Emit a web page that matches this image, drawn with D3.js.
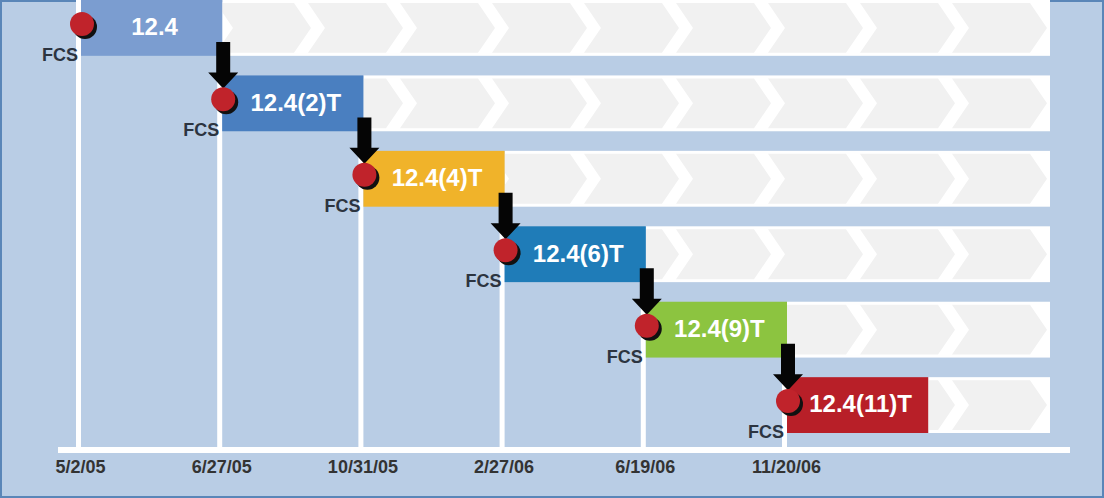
<!DOCTYPE html>
<html>
<head>
<meta charset="utf-8">
<script src="https://cdn.jsdelivr.net/npm/d3@7"></script>
<style>
  body { margin: 0; background: #ffffff; }
  svg { display: block; font-family: "Liberation Sans", Arial, sans-serif; }
</style>
</head>
<body>
<svg id="canvas"></svg>
<script>
// release trains and their FCS dates
let releases = ['12.4', '12.4(2)T', '12.4(4)T', '12.4(6)T', '12.4(9)T', '12.4(11)T']
let fcsDates = ['5/2/05', '6/27/05', '10/31/05', '2/27/06', '6/19/06', '11/20/06']
let barColors = ['#7b9dd0', '#4a7fc0', '#f0b32a', '#1f7cb8', '#8cc440', '#b81f28']

let width = 1104
let height = 498
let bandRight = 1050
let axisY = 447

let svg = d3.select('#canvas')
svg.attr('width', width)
svg.attr('height', height)

let xScale = d3.scalePoint()
    .domain(fcsDates)
    .range([80, 786])

let yScale = d3.scaleBand()
    .domain(releases)
    .range([0, 433])
    .paddingInner(0.26)

let colorScale = d3.scaleOrdinal()
    .domain(releases)
    .range(barColors)

let step = xScale.step()
let bh = yScale.bandwidth()

let rows = releases.map((r, i) => ({ name: r, date: fcsDates[i], i: i }))

// frame
svg.append('rect')
    .attr('x', 1).attr('y', 1)
    .attr('width', width - 2).attr('height', height - 2)
    .attr('fill', '#b9cde5')
    .attr('stroke', '#5a86b8')
    .attr('stroke-width', 2)

let barStart = (d) => xScale(d.date) + 1
let barEnd = (d) => xScale(d.date) + 1 + step

// vertical date lines
svg.selectAll('.vline')
    .data(rows)
    .enter()
    .append('rect')
    .attr('class', 'vline')
    .attr('x', (d) => xScale(d.date) - 4)
    .attr('width', 5)
    .attr('y', (d) => yScale(d.name))
    .attr('height', (d) => axisY - yScale(d.name))
    .attr('fill', '#ffffff')

// axis line
svg.append('rect')
    .attr('x', 58).attr('y', axisY)
    .attr('width', 1070 - 58).attr('height', 6)
    .attr('fill', '#ffffff')

// white bands with chevrons
let defs = svg.append('defs')
rows.forEach((d) => {
    let y0 = yScale(d.name)
    let x0 = barEnd(d)
    defs.append('clipPath')
        .attr('id', 'clip' + d.i)
        .append('rect')
        .attr('x', x0).attr('y', y0)
        .attr('width', bandRight - x0).attr('height', bh)

    svg.append('rect')
        .attr('x', x0).attr('y', y0)
        .attr('width', bandRight - x0).attr('height', bh)
        .attr('fill', '#ffffff')

    let g = svg.append('g').attr('clip-path', 'url(#clip' + d.i + ')')
    let tips = []
    for (let t = 1047; t > x0 - 20; t -= 92) tips.push(t)
    let top = y0 + 3
    let bot = y0 + bh - 3
    let mid = y0 + bh / 2
    let depth = 17
    let w = 78
    g.selectAll('path')
        .data(tips)
        .enter()
        .append('path')
        .attr('d', (t) => `M${t - depth - w},${top} L${t - depth},${top} L${t},${mid} L${t - depth},${bot} L${t - depth - w},${bot} L${t - w},${mid} Z`)
        .attr('fill', '#f1f1f1')
})

// release bars
svg.selectAll('.bar')
    .data(rows)
    .enter()
    .append('rect')
    .attr('class', 'bar')
    .attr('x', barStart)
    .attr('y', (d) => yScale(d.name))
    .attr('width', step)
    .attr('height', bh)
    .attr('fill', (d) => colorScale(d.name))

svg.selectAll('.barlabel')
    .data(rows)
    .enter()
    .append('text')
    .attr('class', 'barlabel')
    .attr('x', (d) => barStart(d) + step / 2 + 3)
    .attr('y', (d) => yScale(d.name) + bh / 2 - 1)
    .attr('dy', '0.35em')
    .attr('text-anchor', 'middle')
    .attr('fill', '#ffffff')
    .attr('font-weight', 'bold')
    .attr('font-size', 24)
    .text((d) => d.name)

// arrows to the next release
let arrowRows = rows.slice(0, rows.length - 1)
svg.selectAll('.arrow')
    .data(arrowRows)
    .enter()
    .append('path')
    .attr('class', 'arrow')
    .attr('d', (d) => {
        let ax = barEnd(d) + 1
        let top = yScale(d.name) + 42
        let tip = yScale(releases[d.i + 1]) + 13
        let hb = tip - 16
        return `M${ax - 7},${top} L${ax + 7},${top} L${ax + 7},${hb} L${ax + 15},${hb} L${ax},${tip} L${ax - 15},${hb} L${ax - 7},${hb} Z`
    })
    .attr('fill', '#050505')

// FCS milestones
let cx = (d) => xScale(d.date) + 2
let cy = (d) => yScale(d.name) + bh / 2 - 4

svg.selectAll('.shadow')
    .data(rows)
    .enter()
    .append('circle')
    .attr('class', 'shadow')
    .attr('cx', (d) => cx(d) + 3)
    .attr('cy', (d) => cy(d) + 3)
    .attr('r', 12)
    .attr('fill', '#111111')

svg.selectAll('.dot')
    .data(rows)
    .enter()
    .append('circle')
    .attr('class', 'dot')
    .attr('cx', cx)
    .attr('cy', cy)
    .attr('r', 12)
    .attr('fill', '#c0232b')

svg.selectAll('.fcs')
    .data(rows)
    .enter()
    .append('text')
    .attr('class', 'fcs')
    .attr('x', (d) => cx(d) - 4)
    .attr('y', (d) => cy(d) + 37)
    .attr('text-anchor', 'end')
    .attr('fill', '#2c3440')
    .attr('font-weight', 'bold')
    .attr('font-size', 18)
    .text('FCS')

// date labels
let xAxis = d3.axisBottom(xScale)
    .tickSize(0)
    .tickPadding(0)

let axisG = svg.append('g')
    .attr('transform', 'translate(0, 460)')
    .call(xAxis)
axisG.select('.domain').remove()
axisG.selectAll('text')
    .attr('font-family', '"Liberation Sans", Arial, sans-serif')
    .attr('font-size', 18)
    .attr('font-weight', 'bold')
    .attr('fill', '#333333')
    .attr('dy', '0.71em')
</script>
</body>
</html>
